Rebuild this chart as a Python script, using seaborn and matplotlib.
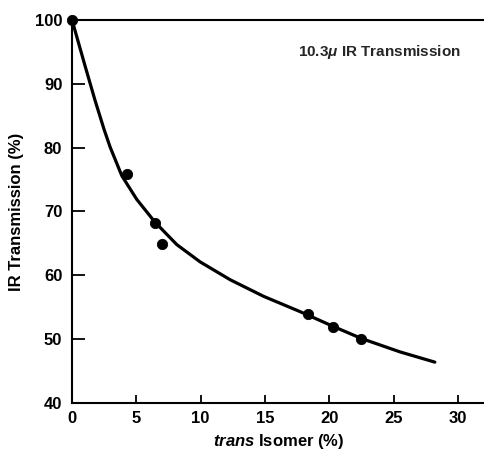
import numpy as np
import pandas as pd
import matplotlib
matplotlib.use("Agg")
import matplotlib.pyplot as plt
import seaborn as sns

# measured points
trans_pct = [0, 4.3, 6.45, 7.0, 18.35, 20.3, 22.5]
ir_trans = [100, 75.9, 68.2, 64.9, 53.9, 51.9, 50.0]

# fitted curve
curve_x = [0, 1.0, 1.79, 2.5, 2.96, 3.87, 5.03, 6.46, 8.15, 9.96, 12.3, 14.9, 17.74, 20.3, 22.5, 25.5, 28.2]
curve_y = [100, 92.9, 87.4, 82.8, 80.1, 75.6, 71.9, 68.3, 64.8, 62.1, 59.3, 56.7, 54.3, 52.0, 50.1, 48.0, 46.4]

xticks = [0, 5, 10, 15, 20, 25, 30]
yticks = [40, 50, 60, 70, 80, 90, 100]

sns.set_style("ticks")
font = "Liberation Sans"
plt.rcParams["font.family"] = [font, "DejaVu Sans"]
plt.rcParams["font.weight"] = "bold"
plt.rcParams["mathtext.fontset"] = "custom"
plt.rcParams["mathtext.rm"] = font + ":bold"
plt.rcParams["mathtext.it"] = font + ":italic"

fig = plt.figure(figsize=(4.85, 4.55), dpi=100)
ax = fig.add_axes([0.1485, 0.1143, 0.8515, 0.8418])

curve = pd.DataFrame({"x": curve_x, "y": curve_y})
pts = pd.DataFrame({"x": trans_pct, "y": ir_trans})

sns.lineplot(data=curve, x="x", y="y", ax=ax, color="black", linewidth=2.3, sort=False)
sns.scatterplot(data=pts, x="x", y="y", ax=ax, color="black", s=55, edgecolor="black", zorder=3, clip_on=False)

ax.set_xlim(0, 32.1)
ax.set_ylim(40, 100)
ax.set_xticks(xticks)
ax.set_yticks(yticks)
ax.tick_params(axis="y", direction="in", length=9, width=1.3, labelsize=12, pad=7, colors="black")
ax.tick_params(axis="x", direction="in", length=6, width=1.3, labelsize=12, pad=6, colors="black")
for s in ["left", "bottom", "top"]:
    ax.spines[s].set_linewidth(1.5)
    ax.spines[s].set_color("black")
ax.spines["right"].set_visible(False)

ax.set_xlabel(r"$\mathit{trans}$ Isomer (%)", fontsize=12, fontweight="bold", labelpad=4, color="black")
ax.set_ylabel("IR Transmission (%)", fontsize=12, fontweight="bold", labelpad=8, color="black")
ax.text(17.6, 95, r"10.3$\mathit{\mu}$ IR Transmission", fontsize=11, fontweight="bold", va="center")

fig.savefig("out.png", dpi=100)
